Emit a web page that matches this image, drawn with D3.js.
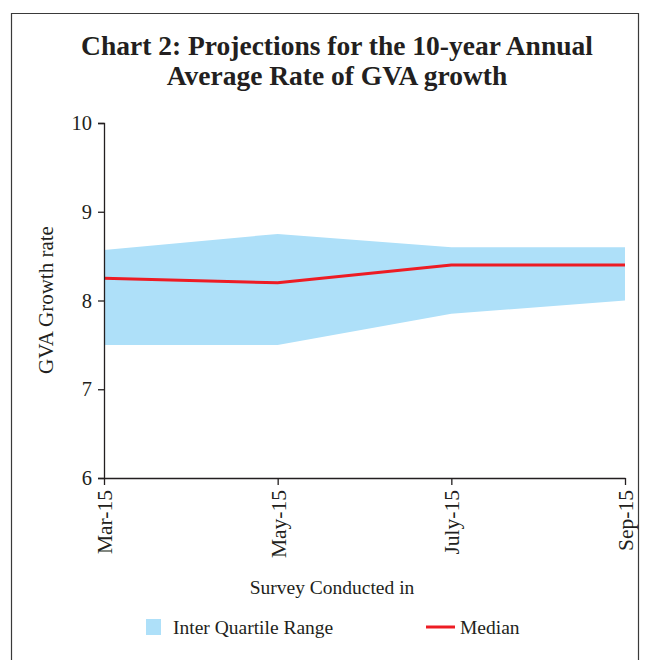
<!DOCTYPE html>
<html>
<head>
<meta charset="utf-8">
<script src="https://cdn.jsdelivr.net/npm/d3@7"></script>
<style>
  html, body { margin: 0; padding: 0; background: #fff; }
  svg text { font-family: "Liberation Serif", "DejaVu Serif", serif; fill: #231f20; }
</style>
</head>
<body>
<svg id="chart" width="649" height="660"></svg>
<script>
// Survey rounds and projections (per cent)
const surveys = ["Mar-15", "May-15", "July-15", "Sep-15"];
const iqrLow  = [7.5, 7.5, 7.85, 8.0];
const iqrHigh = [8.57, 8.75, 8.6, 8.6];
const median  = [8.25, 8.2, 8.4, 8.4];
const yTicks  = [6, 7, 8, 9, 10];

const svg = d3.select("#chart");
const ink = "#231f20";

// Outer frame
svg.append("path")
  .attr("d", "M11.5,700 L11.5,13.5 L638.5,13.5 L638.5,700")
  .attr("fill", "none").attr("stroke", "#3a3a3a").attr("stroke-width", 1.2);

// Title
const title = svg.append("text")
  .attr("text-anchor", "middle")
  .attr("font-weight", "bold")
  .attr("font-size", 27.5);
title.append("tspan").attr("x", 337).attr("y", 55).text("Chart 2: Projections for the 10-year Annual");
title.append("tspan").attr("x", 337).attr("y", 85).text("Average Rate of GVA growth");

const x = d3.scalePoint().domain(surveys).range([104, 625]);
const y = d3.scaleLinear().domain([6, 10]).range([478, 123]);

const rows = surveys.map((s, i) => ({ s, lo: iqrLow[i], hi: iqrHigh[i], med: median[i] }));

// Inter quartile band
svg.append("path")
  .datum(rows)
  .attr("fill", "#aee0f9")
  .attr("d", d3.area().x(d => x(d.s)).y0(d => y(d.lo)).y1(d => y(d.hi)));

// Median line
svg.append("path")
  .datum(rows)
  .attr("fill", "none")
  .attr("stroke", "#ed1c24")
  .attr("stroke-width", 3)
  .attr("d", d3.line().x(d => x(d.s)).y(d => y(d.med)));

// Y axis
const yAxis = svg.append("g")
  .attr("transform", "translate(104,0)")
  .call(d3.axisLeft(y).tickValues(yTicks).tickSize(6).tickPadding(6).tickFormat(d3.format("d")));
yAxis.select(".domain").attr("stroke", ink).attr("stroke-width", 1.3);
yAxis.selectAll(".tick line").attr("stroke", ink).attr("stroke-width", 1.3);
yAxis.selectAll(".tick text").attr("font-size", 20.5).attr("font-family", "Liberation Serif").attr("fill", ink);

// X axis
const xAxis = svg.append("g")
  .attr("transform", "translate(0,478)")
  .call(d3.axisBottom(x).tickSize(7).tickPadding(0).tickSizeOuter(0));
xAxis.select(".domain").attr("stroke", ink).attr("stroke-width", 1.3);
xAxis.selectAll(".tick line").attr("stroke", ink).attr("stroke-width", 1.3);
xAxis.selectAll(".tick text")
  .attr("font-size", 21.5).attr("font-family", "Liberation Serif").attr("fill", ink)
  .attr("text-anchor", "end")
  .attr("dy", "0.35em")
  .attr("transform", "translate(0,12) rotate(-90)")
  .attr("y", 0).attr("x", 0);

// Axis titles
svg.append("text")
  .attr("text-anchor", "middle")
  .attr("font-size", 21)
  .attr("transform", "translate(53,300) rotate(-90)")
  .text("GVA Growth rate");

svg.append("text")
  .attr("x", 332).attr("y", 594)
  .attr("text-anchor", "middle")
  .attr("font-size", 19.5)
  .text("Survey Conducted in");

// Legend
svg.append("rect")
  .attr("x", 146).attr("y", 619).attr("width", 15).attr("height", 16)
  .attr("fill", "#aee0f9");
svg.append("text")
  .attr("x", 173).attr("y", 634)
  .attr("font-size", 19.5)
  .text("Inter Quartile Range");
svg.append("line")
  .attr("x1", 426).attr("x2", 455).attr("y1", 627).attr("y2", 627)
  .attr("stroke", "#ed1c24").attr("stroke-width", 3);
svg.append("text")
  .attr("x", 460).attr("y", 634)
  .attr("font-size", 19.5)
  .text("Median");
</script>
</body>
</html>
